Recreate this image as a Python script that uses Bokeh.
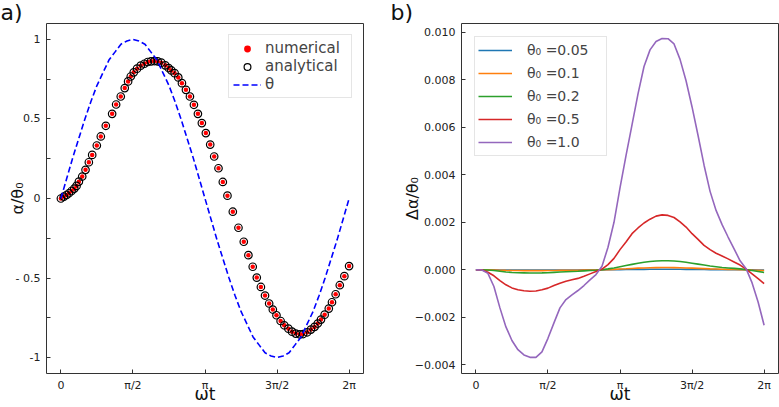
import numpy as np
from bokeh.plotting import figure
from bokeh.layouts import row
from bokeh.models import (Range1d, FixedTicker, CustomJSTickFormatter, Legend,
                          LegendItem, Title)
from bokeh.embed import file_html
from bokeh.resources import INLINE

FONT = "DejaVu Sans"

# ---------------- panel a) : response alpha/theta0 over one period ----------------
wt_pts = [0.0, 0.066, 0.124, 0.175, 0.233, 0.291, 0.341, 0.392, 0.465, 0.537,
          0.609, 0.682, 0.783, 0.870, 0.979, 1.117, 1.204, 1.305, 1.392, 1.465,
          1.523, 1.588, 1.660, 1.740, 1.820, 1.892, 1.965, 2.037, 2.110, 2.189,
          2.276, 2.349, 2.407, 2.479, 2.559, 2.639, 2.726, 2.813, 2.900, 2.987,
          3.073, 3.160, 3.255, 3.342, 3.436, 3.530, 3.631, 3.748, 3.871, 3.987,
          4.088, 4.182, 4.270, 4.360, 4.450, 4.540, 4.620, 4.700, 4.790, 4.870,
          4.960, 5.040, 5.120, 5.210, 5.280, 5.370, 5.450, 5.530, 5.600, 5.670,
          5.750, 5.840, 5.910, 5.990, 6.080, 6.180, 6.283]

alpha_numerical = [0.0, 0.012, 0.022, 0.033, 0.047, 0.062, 0.079, 0.106, 0.138, 0.180,
                   0.228, 0.274, 0.333, 0.390, 0.457, 0.532, 0.591, 0.641, 0.694, 0.736,
                   0.767, 0.793, 0.816, 0.835, 0.847, 0.858, 0.862, 0.864, 0.862, 0.854,
                   0.837, 0.820, 0.805, 0.788, 0.761, 0.725, 0.683, 0.641, 0.589, 0.532,
                   0.474, 0.411, 0.339, 0.264, 0.190, 0.104, 0.018, -0.083, -0.184, -0.272,
                   -0.356, -0.429, -0.497, -0.556, -0.610, -0.660, -0.698, -0.734, -0.770, -0.797,
                   -0.818, -0.837, -0.849, -0.854, -0.852, -0.841, -0.824, -0.807, -0.786, -0.761,
                   -0.730, -0.692, -0.652, -0.602, -0.545, -0.488, -0.425]

alpha_analytical = [0.0, 0.012, 0.022, 0.033, 0.047, 0.062, 0.079, 0.106, 0.138, 0.180,
                    0.228, 0.274, 0.333, 0.390, 0.457, 0.532, 0.591, 0.641, 0.694, 0.736,
                    0.767, 0.793, 0.816, 0.835, 0.847, 0.858, 0.862, 0.864, 0.862, 0.854,
                    0.837, 0.820, 0.805, 0.788, 0.761, 0.725, 0.683, 0.641, 0.589, 0.532,
                    0.474, 0.411, 0.339, 0.264, 0.190, 0.104, 0.018, -0.083, -0.184, -0.272,
                    -0.356, -0.429, -0.497, -0.556, -0.610, -0.660, -0.698, -0.734, -0.770, -0.797,
                    -0.818, -0.837, -0.849, -0.854, -0.852, -0.841, -0.824, -0.807, -0.786, -0.761,
                    -0.730, -0.692, -0.652, -0.602, -0.545, -0.488, -0.425]

# common phase grid (0 .. 2pi in 48 steps) for the continuous curves
wt_grid = np.linspace(0.0, 2.0 * np.pi, 49)

theta_drive = [0.0, 0.13, 0.26, 0.38, 0.50, 0.61, 0.71, 0.79, 0.87, 0.92, 0.97, 0.99,
               1.00, 0.99, 0.97, 0.92, 0.87, 0.79, 0.71, 0.61, 0.50, 0.38, 0.26, 0.13,
               0.0, -0.13, -0.26, -0.38, -0.50, -0.61, -0.71, -0.79, -0.87, -0.92, -0.97, -0.99,
               -1.00, -0.99, -0.97, -0.92, -0.87, -0.79, -0.71, -0.61, -0.50, -0.38, -0.26, -0.13,
               0.0]

# ---------------- panel b) : deviation delta alpha / theta0 (units of 1e-3) ----------------
theta0_labels = ["θ₀ =0.05", "θ₀ =0.1", "θ₀ =0.2", "θ₀ =0.5", "θ₀ =1.0"]
series_colors = ["#1f77b4", "#ff7f0e", "#2ca02c", "#d62728", "#9467bd"]

dev_005 = [0, 0, 0, -0.002, -0.004, -0.006, -0.007, -0.008, -0.008, -0.009, -0.009, -0.008,
           -0.008, -0.007, -0.006, -0.005, -0.004, -0.004, -0.003, -0.002, -0.001, 0.0,
           0.003, 0.005, 0.008, 0.011, 0.014, 0.017, 0.020, 0.022, 0.023, 0.024, 0.024,
           0.023, 0.022, 0.020, 0.018, 0.015, 0.013, 0.010, 0.008, 0.006, 0.005, 0.004,
           0.003, 0.001, -0.002, -0.005, -0.007]
dev_01 = [0, 0, 0, -0.008, -0.015, -0.022, -0.028, -0.031, -0.033, -0.034, -0.034, -0.033,
          -0.030, -0.026, -0.023, -0.020, -0.017, -0.015, -0.011, -0.008, -0.004, 0.001,
          0.010, 0.020, 0.033, 0.045, 0.058, 0.070, 0.080, 0.088, 0.093, 0.095, 0.095,
          0.093, 0.088, 0.080, 0.070, 0.060, 0.050, 0.040, 0.033, 0.025, 0.020, 0.015,
          0.010, 0.003, -0.008, -0.018, -0.028]
dev_02 = [0, 0, -0.01, -0.03, -0.06, -0.09, -0.11, -0.125, -0.13, -0.135, -0.135, -0.13,
          -0.12, -0.105, -0.09, -0.08, -0.07, -0.06, -0.045, -0.03, -0.015, 0.005,
          0.04, 0.08, 0.13, 0.18, 0.23, 0.28, 0.32, 0.35, 0.37, 0.38, 0.38,
          0.37, 0.35, 0.32, 0.28, 0.24, 0.20, 0.16, 0.13, 0.10, 0.08, 0.06,
          0.04, 0.01, -0.03, -0.07, -0.11]
dev_05 = [0, 0, -0.10, -0.25, -0.45, -0.63, -0.76, -0.84, -0.88, -0.90, -0.89, -0.84,
          -0.77, -0.66, -0.56, -0.48, -0.42, -0.36, -0.27, -0.17, -0.07, 0.03,
          0.22, 0.48, 0.85, 1.17, 1.52, 1.76, 1.97, 2.13, 2.26, 2.31, 2.29,
          2.20, 2.02, 1.80, 1.52, 1.28, 1.03, 0.85, 0.70, 0.58, 0.46, 0.33,
          0.20, 0.03, -0.17, -0.37, -0.58]
dev_10 = [0, -0.01, -0.15, -0.70, -1.60, -2.40, -2.97, -3.36, -3.58, -3.68, -3.68, -3.45,
          -2.88, -2.23, -1.60, -1.25, -1.05, -0.87, -0.66, -0.42, -0.20, 0.15,
          0.95, 2.00, 3.45, 4.80, 6.10, 7.40, 8.55, 9.25, 9.60, 9.73, 9.72,
          9.50, 8.85, 7.95, 6.85, 5.65, 4.40, 3.30, 2.50, 1.90, 1.38, 0.88,
          0.38, 0.05, -0.55, -1.35, -2.33]
deviations = [dev_005, dev_01, dev_02, dev_05, dev_10]

phase_ticks = [0.0, np.pi / 2, np.pi, 1.5 * np.pi, 2.0 * np.pi]

phase_formatter = CustomJSTickFormatter(code="""
const names = ["0", "π/2", "π", "3π/2", "2π"];
const k = Math.round(tick / (Math.PI / 2));
return names[k] ?? "";
""")


def style_axes(p, ylabel, ylabel_standoff, panel_tag, tag_offset):
    p.xgrid.visible = False
    p.ygrid.visible = False
    p.outline_line_color = "#333333"
    p.outline_line_width = 1
    p.outline_line_alpha = 1.0
    p.background_fill_color = "white"
    p.border_fill_color = "white"
    for ax in (p.xaxis[0], p.yaxis[0]):
        ax.axis_line_color = None
        ax.major_tick_in = 4
        ax.major_tick_out = 0
        ax.minor_tick_in = 4
        ax.minor_tick_out = 0
        ax.major_tick_line_color = "#333333"
        ax.minor_tick_line_color = "#333333"
        ax.major_label_text_font = FONT
        ax.major_label_text_font_size = "11px"
        ax.major_label_text_color = "#222222"
        ax.axis_label_text_font = FONT
        ax.axis_label_text_font_style = "normal"
        ax.axis_label_text_color = "#111111"
    p.xaxis[0].major_label_standoff = 5
    p.yaxis[0].major_label_standoff = 6
    p.xaxis[0].ticker = FixedTicker(ticks=phase_ticks, minor_ticks=[])
    p.xaxis[0].formatter = phase_formatter
    p.xaxis[0].axis_label = "ωt"
    p.xaxis[0].axis_label_text_font_size = "17px"
    p.xaxis[0].axis_label_standoff = -11
    p.yaxis[0].axis_label = ylabel
    p.yaxis[0].axis_label_text_font_size = "16px"
    p.yaxis[0].axis_label_standoff = ylabel_standoff
    p.title = Title(text=panel_tag, align="left", offset=tag_offset, standoff=-6,
                    vertical_align="top", text_font=FONT, text_font_size="22px",
                    text_font_style="normal", text_color="#111111")


# ---- figure a)
pa = figure(width=390, height=407, x_range=Range1d(-0.314, 6.597),
            y_range=Range1d(-1.1, 1.1), output_backend="svg", toolbar_location=None,
            min_border_left=46, min_border_right=27, min_border_top=23,
            min_border_bottom=34)
style_axes(pa, "α/θ₀", -14, "a)", -46)
pa.yaxis[0].ticker = FixedTicker(ticks=[-1, -0.5, 0, 0.5, 1],
                                 minor_ticks=[-0.75, -0.25, 0.25, 0.75])
pa.yaxis[0].formatter = CustomJSTickFormatter(code="""
const m = {"1": "1", "0.5": "0.5", "0": "0", "-0.5": "- 0.5", "-1": "-1"};
return m[String(tick)] ?? "";
""")

r_num = pa.scatter(wt_pts, alpha_numerical, marker="circle", size=4.5,
                   fill_color="red", line_color=None)
r_ana = pa.scatter(wt_pts, alpha_analytical, marker="circle", size=7.5,
                   fill_color=None, line_color="black", line_width=1.2)
r_theta = pa.line(wt_grid, theta_drive, line_color="blue", line_width=1.6,
                  line_dash="6 3")

leg_a = Legend(items=[LegendItem(label="numerical", renderers=[r_num]),
                      LegendItem(label="analytical", renderers=[r_ana]),
                      LegendItem(label="θ", renderers=[r_theta])],
               location="top_right", margin=11, padding=4, spacing=0,
               glyph_width=28, glyph_height=17, label_height=17, label_width=82,
               label_standoff=4, label_text_font=FONT, label_text_font_size="15px",
               border_line_color="#cccccc", background_fill_alpha=0.85)
pa.add_layout(leg_a)

# ---- figure b)
pb = figure(width=389, height=407, x_range=Range1d(-0.314, 6.597),
            y_range=Range1d(-0.00436, 0.01036), output_backend="svg",
            toolbar_location=None, min_border_left=71, min_border_right=1,
            min_border_top=23, min_border_bottom=34)
style_axes(pb, "Δα/θ₀", -10, "b)", -71)
pb.yaxis[0].ticker = FixedTicker(ticks=[-0.004, -0.002, 0.0, 0.002, 0.004, 0.006,
                                        0.008, 0.010], minor_ticks=[])
pb.yaxis[0].formatter = CustomJSTickFormatter(code="""
const s = Math.abs(tick).toFixed(3);
return (tick < -1e-12 ? "\\u2212" : "") + s;
""")

items_b = []
for lab, col, dev in zip(theta0_labels, series_colors, deviations):
    r = pb.line(wt_grid, np.array(dev) * 1e-3, line_color=col, line_width=1.6)
    items_b.append(LegendItem(label=lab, renderers=[r]))

leg_b = Legend(items=items_b, location="top_left", margin=13, padding=3, spacing=3,
               glyph_width=34, glyph_height=20, label_height=20, label_width=76,
               label_standoff=15, label_text_font=FONT, label_text_font_size="14px",
               border_line_color="#cccccc", background_fill_alpha=0.85)
pb.add_layout(leg_b)

layout = row(pa, pb)
with open("out.html", "w", encoding="utf-8") as f:
    f.write(file_html(layout, INLINE))
